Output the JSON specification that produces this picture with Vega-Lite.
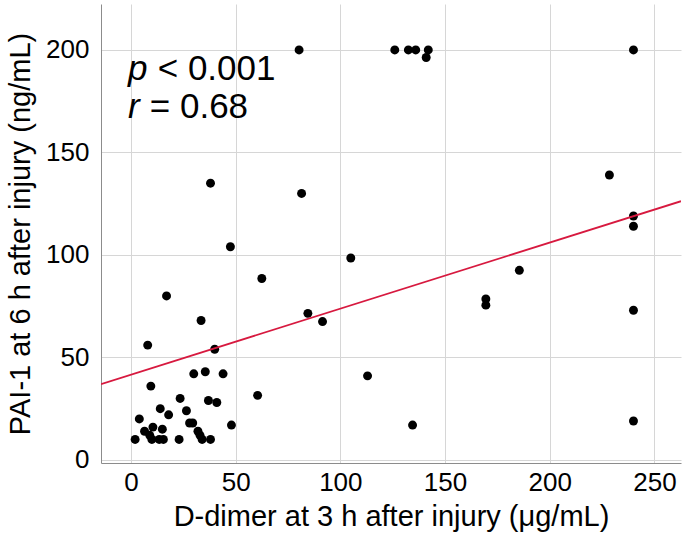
{
  "$schema": "https://vega.github.io/schema/vega-lite/v6.json",
  "width": 580,
  "height": 459,
  "autosize": {"type": "none"},
  "padding": {"left": 101, "top": 4, "right": 4, "bottom": 79},
  "background": "white",
  "config": {"view": {"stroke": null}, "font": "Liberation Sans"},
  "datasets": {
    "points": [
      {"x": 80.3, "y": 200}, {"x": 126, "y": 200}, {"x": 132.5, "y": 200}, {"x": 136, "y": 200}, {"x": 142, "y": 200}, {"x": 141, "y": 196.3}, {"x": 240, "y": 200},
      {"x": 228.5, "y": 139}, {"x": 240, "y": 119}, {"x": 240, "y": 114}, {"x": 240, "y": 73}, {"x": 240, "y": 19},
      {"x": 185.5, "y": 92.5}, {"x": 169.5, "y": 78.5}, {"x": 169.5, "y": 75.5}, {"x": 105, "y": 98.5}, {"x": 113, "y": 41}, {"x": 134.5, "y": 17},
      {"x": 81.5, "y": 130}, {"x": 84.5, "y": 71.5}, {"x": 91.5, "y": 67.5}, {"x": 62.5, "y": 88.5}, {"x": 60.5, "y": 31.5},
      {"x": 38, "y": 135}, {"x": 47.5, "y": 104}, {"x": 17, "y": 80}, {"x": 33.5, "y": 68}, {"x": 8, "y": 56}, {"x": 40, "y": 54},
      {"x": 30, "y": 42}, {"x": 35.5, "y": 43}, {"x": 44, "y": 42}, {"x": 9.5, "y": 36},
      {"x": 23.5, "y": 30}, {"x": 37, "y": 29}, {"x": 41, "y": 28}, {"x": 14, "y": 25}, {"x": 26.5, "y": 24}, {"x": 18, "y": 22},
      {"x": 4, "y": 20}, {"x": 28, "y": 18}, {"x": 29.5, "y": 18}, {"x": 48, "y": 17}, {"x": 10.5, "y": 16}, {"x": 15, "y": 15},
      {"x": 6.5, "y": 14}, {"x": 32, "y": 14}, {"x": 9, "y": 12}, {"x": 33, "y": 12},
      {"x": 2, "y": 10}, {"x": 10, "y": 10}, {"x": 13.5, "y": 10}, {"x": 15.5, "y": 10}, {"x": 23, "y": 10}, {"x": 34, "y": 10}, {"x": 38, "y": 10}
    ],
    "fit": [
      {"x": -14.3, "y": 37.0},
      {"x": 262.7, "y": 126.2}
    ],
    "italic": [
      {"x": -1.4, "y": 185.3, "label": "p"},
      {"x": -1.4, "y": 166.7, "label": "r"}
    ],
    "regular": [
      {"x": 12.8, "y": 185.3, "label": "< 0.001"},
      {"x": 9.0, "y": 166.7, "label": "= 0.68"}
    ]
  },
  "layer": [
    {
      "data": {"name": "points"},
      "mark": {"type": "circle", "color": "black", "opacity": 1, "size": 80},
      "encoding": {
        "x": {
          "field": "x", "type": "quantitative",
          "scale": {"domain": [-14.3, 262.7], "nice": false, "zero": false},
          "axis": {
            "title": "D-dimer at 3 h after injury (μg/mL)",
            "values": [0, 50, 100, 150, 200, 250],
            "grid": true, "gridColor": "#d6d6d6", "gridWidth": 1,
            "ticks": false, "domainColor": "#8c8c8c", "domainWidth": 1,
            "labelFontSize": 26, "labelColor": "black", "labelPadding": 6,
            "titleFontSize": 29, "titleFontWeight": "normal", "titleColor": "black", "titlePadding": 7
          }
        },
        "y": {
          "field": "y", "type": "quantitative",
          "scale": {"domain": [-1.5, 222.4], "nice": false, "zero": false},
          "axis": {
            "title": "PAI-1 at 6 h after injury (ng/mL)",
            "values": [0, 50, 100, 150, 200],
            "grid": true, "gridColor": "#d6d6d6", "gridWidth": 1,
            "ticks": false, "domainColor": "#8c8c8c", "domainWidth": 1,
            "labelFontSize": 26, "labelColor": "black", "labelPadding": 12,
            "titleFontSize": 29, "titleFontWeight": "normal", "titleColor": "black", "titlePadding": 10
          }
        }
      }
    },
    {
      "data": {"name": "fit"},
      "mark": {"type": "line", "color": "#d7193f", "strokeWidth": 1.8, "clip": true},
      "encoding": {
        "x": {"field": "x", "type": "quantitative"},
        "y": {"field": "y", "type": "quantitative"}
      }
    },
    {
      "data": {"name": "italic"},
      "mark": {"type": "text", "align": "left", "baseline": "alphabetic", "fontSize": 35, "fontStyle": "italic", "color": "black"},
      "encoding": {
        "x": {"field": "x", "type": "quantitative"},
        "y": {"field": "y", "type": "quantitative"},
        "text": {"field": "label"}
      }
    },
    {
      "data": {"name": "regular"},
      "mark": {"type": "text", "align": "left", "baseline": "alphabetic", "fontSize": 35, "color": "black"},
      "encoding": {
        "x": {"field": "x", "type": "quantitative"},
        "y": {"field": "y", "type": "quantitative"},
        "text": {"field": "label"}
      }
    }
  ]
}
